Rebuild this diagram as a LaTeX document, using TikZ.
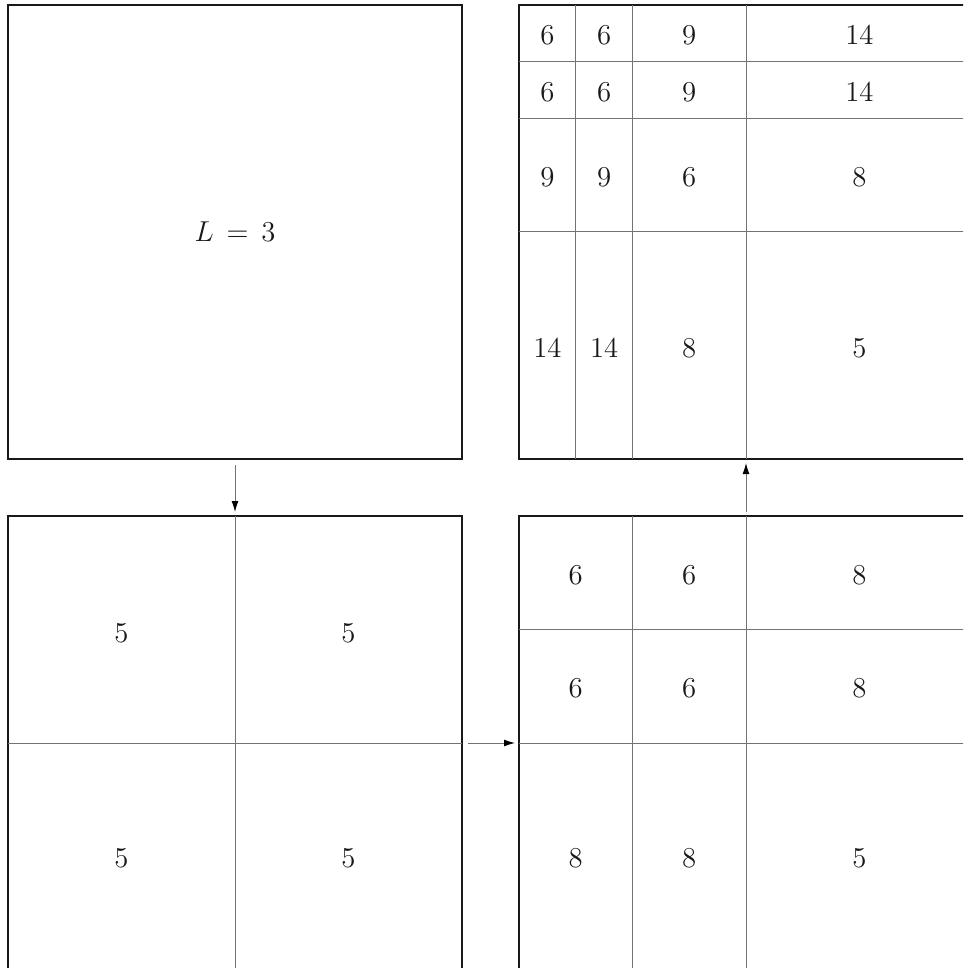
\documentclass[tikz,border=0pt]{standalone}
\usetikzlibrary{arrows.meta}
\begin{document}
\begin{tikzpicture}[x=0.5pt,y=-0.5pt,
  frame/.style={rectangle, draw=black!90, line width=1pt, minimum width=227pt, minimum height=227pt, inner sep=0pt, outer sep=0pt, anchor=north west},
  div/.style={draw=black!55, line width=0.5pt},
  conn/.style={draw=black!55, line width=0.5pt, -{Latex[length=5.5pt,width=3.5pt,black]}},
  lab/.style={font=\fontsize{15.5}{18}\selectfont, text=black!90, inner sep=0pt}]
\useasboundingbox (0,0) rectangle (963,968);
\clip (0,0) rectangle (963,968);
% boxes
\node[frame] (A) at (8,5) {};
\node[frame] (B) at (519,5) {};
\node[frame] (C) at (8,516) {};
\node[frame] (D) at (519,516) {};
% dividers in C
\draw[div] (C.north) -- (C.south);
\draw[div] (C.west) -- (C.east);
% dividers in D
\draw[div] (632.5,516) -- (632.5,970);
\draw[div] (D.north) -- (D.south);
\draw[div] (519,629.5) -- (973,629.5);
\draw[div] (D.west) -- (D.east);
% dividers in B
\draw[div] (575.75,5) -- (575.75,459);
\draw[div] (632.5,5) -- (632.5,459);
\draw[div] (B.north) -- (B.south);
\draw[div] (519,61.75) -- (973,61.75);
\draw[div] (519,118.5) -- (973,118.5);
\draw[div] (B.west) -- (B.east);
% labels A
\node[lab] (la) at (235,232) {$L\,=\,3$};
% labels C
\node[lab] (c11) at (121.5,633) {$5$};
\node[lab] (c12) at (348.5,633) {$5$};
\node[lab] (c21) at (121.5,858) {$5$};
\node[lab] (c22) at (348.5,858) {$5$};
% labels D
\node[lab] (d11) at (575.75,575) {$6$};
\node[lab] (d12) at (689.25,575) {$6$};
\node[lab] (d13) at (859.5,575) {$8$};
\node[lab] (d21) at (575.75,688) {$6$};
\node[lab] (d22) at (689.25,688) {$6$};
\node[lab] (d23) at (859.5,688) {$8$};
\node[lab] (d31) at (575.75,858) {$8$};
\node[lab] (d32) at (689.25,858) {$8$};
\node[lab] (d33) at (859.5,858) {$5$};
% labels B
\node[lab] (b11) at (547.4,35) {$6$};
\node[lab] (b12) at (604.1,35) {$6$};
\node[lab] (b13) at (689.25,35) {$9$};
\node[lab] (b14) at (859.5,35) {$14$};
\node[lab] (b21) at (547.4,92) {$6$};
\node[lab] (b22) at (604.1,92) {$6$};
\node[lab] (b23) at (689.25,92) {$9$};
\node[lab] (b24) at (859.5,92) {$14$};
\node[lab] (b31) at (547.4,177) {$9$};
\node[lab] (b32) at (604.1,177) {$9$};
\node[lab] (b33) at (689.25,177) {$6$};
\node[lab] (b34) at (859.5,177) {$8$};
\node[lab] (b41) at (547.4,348) {$14$};
\node[lab] (b42) at (604.1,348) {$14$};
\node[lab] (b43) at (689.25,348) {$8$};
\node[lab] (b44) at (859.5,348) {$5$};
% connectors
\coordinate (s1) at (235,465);
\coordinate (s2) at (468,743);
\coordinate (s3) at (746,512);
\draw[conn] (s1) -- ([yshift=2pt]C.north);
\draw[conn] (s2) -- ([xshift=-2pt]D.west);
\draw[conn] (s3) -- ([yshift=-2pt]B.south);
\end{tikzpicture}
\end{document}
